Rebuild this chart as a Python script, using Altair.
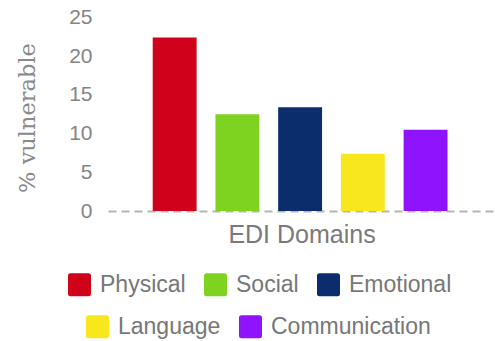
import altair as alt
import pandas as pd

domains = ["Physical", "Social", "Emotional", "Language", "Communication"]
values = [22.4, 12.5, 13.4, 7.4, 10.5]
colors = ["#D0021B", "#7ED321", "#0B2D6B", "#F8E71C", "#9013FE"]
legend_row = [1, 1, 1, 2, 2]
y_ticks = [0, 5, 10, 15, 20, 25]

df = pd.DataFrame({"domain": domains, "value": values, "row": legend_row})

rounded_square = ("M -0.78,-1 L 0.78,-1 Q 1,-1 1,-0.78 L 1,0.78 Q 1,1 0.78,1 "
                  "L -0.78,1 Q -1,1 -1,0.78 L -1,-0.78 Q -1,-1 -0.78,-1 Z")

x_enc = alt.X("domain:N", sort=domains,
              scale=alt.Scale(paddingInner=0.3, paddingOuter=0.735, align=0.485),
              axis=alt.Axis(title="EDI Domains", labels=False, ticks=False,
                            domain=True, domainColor="#b5b5b5", domainWidth=2,
                            domainDash=[8, 5], titleFont="Liberation Sans",
                            titleFontSize=25, titleFontWeight="normal",
                            titleColor="#7a7a7a", titlePadding=11))
y_enc = alt.Y("value:Q", scale=alt.Scale(domain=[0, 25], nice=False),
              axis=alt.Axis(title="% vulnerable", values=y_ticks, grid=False,
                            ticks=False, domain=False, labelPadding=16,
                            labelFont="Liberation Sans", labelFontSize=21,
                            labelColor="#858585", titleFont="DejaVu Serif",
                            titleFontSize=22.5, titleFontWeight="normal",
                            titleColor="#8a8a8a", titleAngle=-90,
                            titleX=-81, titleY=100, titleAlign="center",
                            titleBaseline="middle"))


def legend(x, y):
    return alt.Legend(title=None, orient="none", legendX=x, legendY=y,
                      direction="horizontal", symbolType=rounded_square,
                      symbolSize=529, symbolStrokeWidth=0, symbolOpacity=1,
                      labelFont="Liberation Sans", labelFontSize=23,
                      labelColor="#777777", labelOffset=9, columnPadding=18,
                      padding=0)


row1 = [d for d, r in zip(domains, legend_row) if r == 1]
row2 = [d for d, r in zip(domains, legend_row) if r == 2]
col1 = [c for c, r in zip(colors, legend_row) if r == 1]
col2 = [c for c, r in zip(colors, legend_row) if r == 2]

bars1 = alt.Chart(df).transform_filter(alt.datum.row == 1).mark_bar().encode(
    x=x_enc, y=y_enc,
    color=alt.Color("domain:N", sort=row1,
                    scale=alt.Scale(domain=row1, range=col1),
                    legend=legend(-40, 255.5)))
bars2 = alt.Chart(df).transform_filter(alt.datum.row == 2).mark_bar().encode(
    x=x_enc, y=y_enc,
    color=alt.Color("domain:N", sort=row2,
                    scale=alt.Scale(domain=row2, range=col2),
                    legend=legend(-22, 297.5)))

chart = alt.layer(bars1, bars2).resolve_scale(color="independent").properties(
    width=387, height=193.5,
    autosize=alt.AutoSizeParams(type="none"),
    padding={"left": 108, "top": 17.5, "right": 0, "bottom": 130},
    background="white",
).configure_view(stroke=None)

chart.save("out.html", embed_options={"renderer": "svg", "actions": False})
